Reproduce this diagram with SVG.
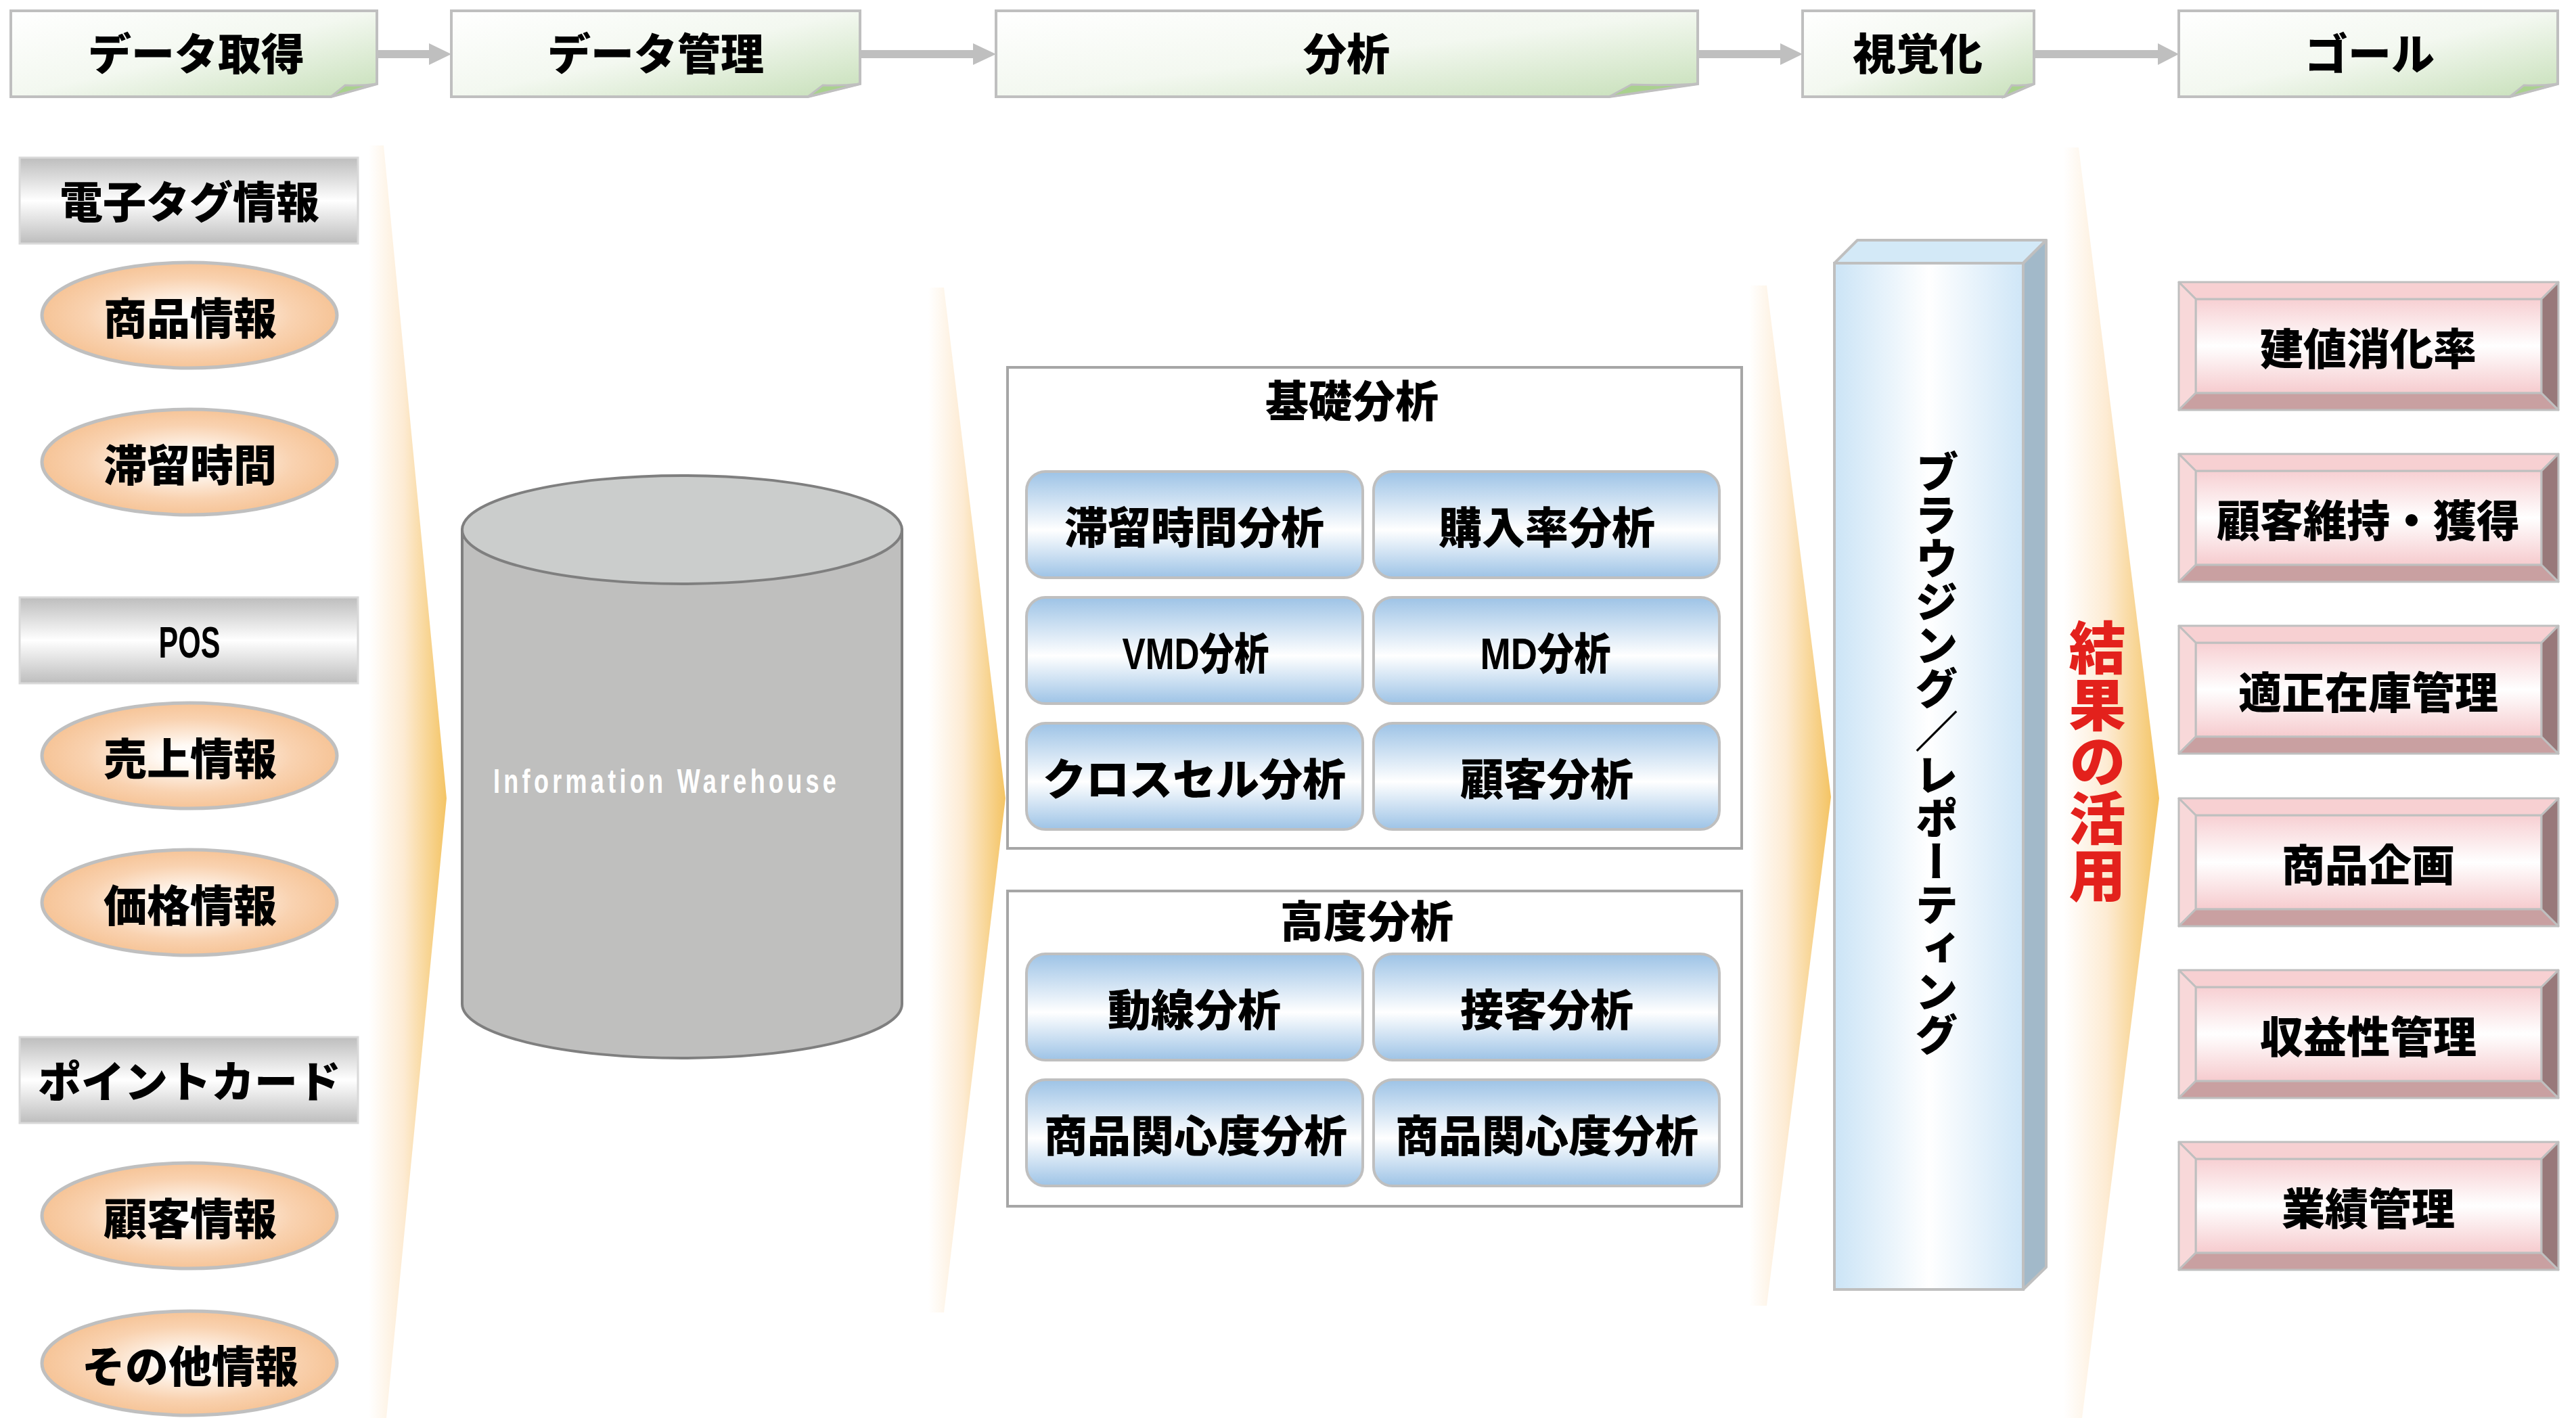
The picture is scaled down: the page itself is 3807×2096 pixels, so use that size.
<svg xmlns="http://www.w3.org/2000/svg" xmlns:xlink="http://www.w3.org/1999/xlink" width="3807" height="2096" viewBox="0 0 3807 2096">
<style>
.jp{font-family:"Liberation Sans","Noto Sans CJK JP",sans-serif;font-weight:900;font-size:64px;fill:#000;text-anchor:middle;dominant-baseline:central}
.head{fill:url(#gHead);stroke:#bfbfbf;stroke-width:4}
.fold{fill:#a9d18e;stroke:#bfbfbf;stroke-width:3}
.gbox{fill:url(#gGray);stroke:#d9d9d9;stroke-width:3}
.ell{fill:url(#gOrange);stroke:#bfbfbf;stroke-width:5}
.btn{fill:url(#gBlue);stroke:#bfbfbf;stroke-width:4}
.frame{fill:#ffffff;stroke:#a6a6a6;stroke-width:4}
.chev{fill:url(#gChev)}
.conn{fill:#bfbfbf}
.bv{stroke:#bfbfbf;stroke-width:3;stroke-linejoin:round}
</style>
<defs>
<linearGradient id="gHead" x1="0" y1="0" x2="1" y2="1">
<stop offset="0" stop-color="#ffffff"/>
<stop offset="0.5" stop-color="#f3f8f0"/>
<stop offset="1" stop-color="#c6dfb8"/>
</linearGradient>
<linearGradient id="gGray" x1="0" y1="0" x2="0" y2="1">
<stop offset="0" stop-color="#bdbdbd"/>
<stop offset="0.5" stop-color="#ffffff"/>
<stop offset="1" stop-color="#bdbdbd"/>
</linearGradient>
<radialGradient id="gOrange" cx="0.5" cy="0.5" r="0.5">
<stop offset="0" stop-color="#ffffff"/>
<stop offset="0.2" stop-color="#fffaf5"/>
<stop offset="0.7" stop-color="#f9d2b0"/>
<stop offset="1" stop-color="#f6c497"/>
</radialGradient>
<linearGradient id="gBlue" x1="0" y1="0" x2="0" y2="1">
<stop offset="0" stop-color="#9dc3e6"/>
<stop offset="0.55" stop-color="#ffffff"/>
<stop offset="1" stop-color="#9dc3e6"/>
</linearGradient>
<linearGradient id="gChev" x1="0" y1="0" x2="1" y2="0">
<stop offset="0" stop-color="#ffffff"/>
<stop offset="0.45" stop-color="#fdebd3"/>
<stop offset="1" stop-color="#f4c464"/>
</linearGradient>
<linearGradient id="gFront" x1="0" y1="0" x2="1" y2="0">
<stop offset="0" stop-color="#cbe4f6"/>
<stop offset="0.5" stop-color="#ffffff"/>
<stop offset="1" stop-color="#cfe6f7"/>
</linearGradient>
<linearGradient id="gPink" x1="0" y1="0" x2="0" y2="1">
<stop offset="0" stop-color="#f7cfd2"/>
<stop offset="0.5" stop-color="#ffffff"/>
<stop offset="1" stop-color="#f6cbce"/>
</linearGradient>
<g id="bevel">
<rect x="25" y="25" width="511" height="139" fill="url(#gPink)" class="bv"/>
<polygon points="0,0 561,0 536,25 25,25" fill="#f7d0d2" class="bv"/>
<polygon points="0,0 25,25 25,164 0,189" fill="#f8d8d9" class="bv"/>
<polygon points="0,189 25,164 536,164 561,189" fill="#c9a0a1" class="bv"/>
<polygon points="561,0 561,189 536,164 536,25" fill="#98797a" class="bv"/>
</g>
</defs>

<rect width="3807" height="2096" fill="#ffffff"/>

<!-- big chevrons -->
<g id="chevrons">
<polygon class="chev" points="545,215 567,215 660,1180 571,2096 545,2096"/>
<polygon class="chev" points="1372,425 1395,425 1486,1180 1395,1940 1372,1940"/>
<polygon class="chev" points="2585,422 2611,422 2706,1178 2611,1930 2585,1930"/>
<polygon class="chev" points="3050,218 3072,218 3191,1180 3077,2096 3050,2096"/>
</g>

<!-- connectors -->
<g id="connectors">
<polygon class="conn" points="557,74 634,74 634,64 667,80 634,96 634,86 557,86"/>
<polygon class="conn" points="1271,74 1438,74 1438,64 1472,80 1438,96 1438,86 1271,86"/>
<polygon class="conn" points="2509,74 2631,74 2631,64 2664,80 2631,96 2631,86 2509,86"/>
<polygon class="conn" points="3006,74 3189,74 3189,64 3220,80 3189,96 3189,86 3006,86"/>
</g>

<!-- header stages -->
<g id="stage-acquire">
<path class="head" d="M16,16 H557 V124 L489,143 H16 Z"/>
<path class="fold" d="M489,143 L510,126 Q535,127 557,124 Z"/>
<text class="jp" x="290" y="81">データ取得</text>
</g>
<g id="stage-manage">
<path class="head" d="M667,16 H1271 V124 L1194,143 H667 Z"/>
<path class="fold" d="M1194,143 L1216,126 Q1245,127 1271,124 Z"/>
<text class="jp" x="969" y="81">データ管理</text>
</g>
<g id="stage-analysis">
<path class="head" d="M1472,16 H2509 V124 L2378,143 H1472 Z"/>
<path class="fold" d="M2378,143 L2411,125 Q2460,127 2509,124 Z"/>
<text class="jp" x="1990" y="81">分析</text>
</g>
<g id="stage-visual">
<path class="head" d="M2664,16 H3006 V124 L2962,143 H2664 Z"/>
<path class="fold" d="M2962,143 L2973,126 Q2990,127 3006,124 Z"/>
<text class="jp" x="2834" y="81">視覚化</text>
</g>
<g id="stage-goal">
<path class="head" d="M3220,16 H3780 V124 L3709,143 H3220 Z"/>
<path class="fold" d="M3709,143 L3730,126 Q3755,127 3780,124 Z"/>
<text class="jp" x="3502" y="81">ゴール</text>
</g>

<!-- left column sources -->
<g id="src-rfid">
<rect class="gbox" x="29" y="233" width="500" height="127"/>
<text class="jp" x="280" y="300">電子タグ情報</text>
</g>
<g id="src-product">
<ellipse class="ell" cx="280" cy="466" rx="218" ry="78"/>
<text class="jp" x="281" y="472">商品情報</text>
</g>
<g id="src-dwell">
<ellipse class="ell" cx="280" cy="683" rx="218" ry="78"/>
<text class="jp" x="281" y="689">滞留時間</text>
</g>
<g id="src-pos">
<rect class="gbox" x="29" y="883" width="500" height="127"/>
<text class="jp" x="280" y="950" textLength="91" lengthAdjust="spacingAndGlyphs" font-size="68">POS</text>
</g>
<g id="src-sales">
<ellipse class="ell" cx="280" cy="1117" rx="218" ry="78"/>
<text class="jp" x="281" y="1123">売上情報</text>
</g>
<g id="src-price">
<ellipse class="ell" cx="280" cy="1334" rx="218" ry="78"/>
<text class="jp" x="281" y="1340">価格情報</text>
</g>
<g id="src-point">
<rect class="gbox" x="29" y="1533" width="500" height="127"/>
<text class="jp" x="280" y="1600">ポイントカード</text>
</g>
<g id="src-customer">
<ellipse class="ell" cx="280" cy="1797" rx="218" ry="78"/>
<text class="jp" x="281" y="1803">顧客情報</text>
</g>
<g id="src-other">
<ellipse class="ell" cx="280" cy="2015" rx="218" ry="77"/>
<text class="jp" x="281" y="2021">その他情報</text>
</g>

<!-- warehouse -->
<g id="warehouse">
<path d="M683,783 V1484 A325,80 0 0 0 1333,1484 V783 Z" fill="#bfbfbe" stroke="#7f7f7f" stroke-width="4"/>
<ellipse cx="1008" cy="783" rx="325" ry="80" fill="#cbcdcc" stroke="#7f7f7f" stroke-width="4"/>
<text transform="translate(729,1172) scale(0.72,1)" font-family="Liberation Sans, sans-serif" font-weight="bold" font-size="50" fill="#ffffff" textLength="704" lengthAdjust="spacing">Information Warehouse</text>
</g>

<!-- basic analysis -->
<g id="basic-analysis">
<rect class="frame" x="1489" y="543" width="1085" height="711"/>
<text class="jp" x="1998" y="594">基礎分析</text>
</g>
<g id="a-dwell">
<rect class="btn" x="1517" y="697" width="497" height="157" rx="28"/>
<text class="jp" x="1765" y="781">滞留時間分析</text>
</g>
<g id="a-purchase">
<rect class="btn" x="2030" y="697" width="511" height="157" rx="28"/>
<text class="jp" x="2286" y="781">購入率分析</text>
</g>
<g id="a-vmd">
<rect class="btn" x="1517" y="883" width="497" height="157" rx="28"/>
<text class="jp" x="1767" y="967" textLength="217" lengthAdjust="spacingAndGlyphs">VMD分析</text>
</g>
<g id="a-md">
<rect class="btn" x="2030" y="883" width="511" height="157" rx="28"/>
<text class="jp" x="2284" y="967" textLength="193" lengthAdjust="spacingAndGlyphs">MD分析</text>
</g>
<g id="a-crosssell">
<rect class="btn" x="1517" y="1069" width="497" height="157" rx="28"/>
<text class="jp" x="1765" y="1153">クロスセル分析</text>
</g>
<g id="a-customer">
<rect class="btn" x="2030" y="1069" width="511" height="157" rx="28"/>
<text class="jp" x="2286" y="1153">顧客分析</text>
</g>

<!-- advanced analysis -->
<g id="advanced-analysis">
<rect class="frame" x="1489" y="1317" width="1085" height="466"/>
<text class="jp" x="2020" y="1363">高度分析</text>
</g>
<g id="a-flow">
<rect class="btn" x="1517" y="1410" width="497" height="157" rx="28"/>
<text class="jp" x="1765" y="1494">動線分析</text>
</g>
<g id="a-service">
<rect class="btn" x="2030" y="1410" width="511" height="157" rx="28"/>
<text class="jp" x="2286" y="1494">接客分析</text>
</g>
<g id="a-interest1">
<rect class="btn" x="1517" y="1596" width="497" height="157" rx="28"/>
<text class="jp" x="1767" y="1680">商品関心度分析</text>
</g>
<g id="a-interest2">
<rect class="btn" x="2030" y="1596" width="511" height="157" rx="28"/>
<text class="jp" x="2286" y="1680">商品関心度分析</text>
</g>

<!-- browsing / reporting -->
<g id="browsing">
<polygon points="2711,389 2745,355 3024,355 2990,389" fill="#d3e9f7" stroke="#bfbfbf" stroke-width="4" stroke-linejoin="round"/>
<polygon points="2990,389 3024,355 3024,1873 2990,1906" fill="#a2b9c9" stroke="#bfbfbf" stroke-width="4" stroke-linejoin="round"/>
<rect x="2711" y="389" width="279" height="1517" fill="url(#gFront)" stroke="#bfbfbf" stroke-width="4"/>
<text class="jp" x="2856" y="1113" style="writing-mode:vertical-rl;text-orientation:upright">ブラウジング／レポーティング</text>
</g>

<g id="result-use">
<text class="jp" x="3092" y="1125" font-size="84" style="writing-mode:vertical-rl;text-orientation:upright;fill:#e3211c;font-size:84px">結果の活用</text>
</g>

<!-- goals -->
<g id="goal-markdown">
<use xlink:href="#bevel" x="3220" y="417"/>
<text class="jp" x="3500" y="517">建値消化率</text>
</g>
<g id="goal-customer">
<use xlink:href="#bevel" x="3220" y="671"/>
<text class="jp" x="3500" y="771">顧客維持・獲得</text>
</g>
<g id="goal-inventory">
<use xlink:href="#bevel" x="3220" y="925"/>
<text class="jp" x="3500" y="1025">適正在庫管理</text>
</g>
<g id="goal-planning">
<use xlink:href="#bevel" x="3220" y="1180"/>
<text class="jp" x="3500" y="1280">商品企画</text>
</g>
<g id="goal-profit">
<use xlink:href="#bevel" x="3220" y="1434"/>
<text class="jp" x="3500" y="1534">収益性管理</text>
</g>
<g id="goal-performance">
<use xlink:href="#bevel" x="3220" y="1688"/>
<text class="jp" x="3500" y="1788">業績管理</text>
</g>
</svg>
